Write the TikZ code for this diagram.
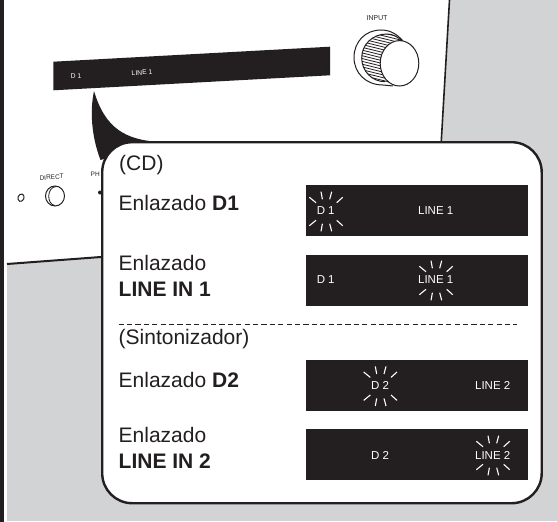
\documentclass[tikz,border=0pt]{standalone}
\usepackage{fontspec}
\setmainfont{Liberation Sans}
\definecolor{ink}{HTML}{231F20}
\definecolor{bggrey}{HTML}{D1D3D4}
\tikzset{
  x=1pt,y=-1pt,
  dispbox/.style={fill=ink,draw=none,inner sep=0pt,minimum width=222pt,minimum height=51pt,anchor=north west},
  disptext/.style={text=white,inner sep=0pt,font=\fontsize{11.5}{12}\selectfont},
  bigtext/.style={text=ink,inner sep=0pt,anchor=base west,font=\fontsize{21}{22}\selectfont},
  smalltext/.style={text=ink,inner sep=0pt,font=\fontsize{6.8}{7}\selectfont},
  spark/.style={draw=white,line width=1.1pt},
  edge/.style={draw=ink,line width=1pt}
}
\newcommand{\burstat}[2]{%
  \begin{scope}[shift={(#1,#2)}]
    \foreach \ax/\ay/\bx/\by in {-16.3/-13.7/-9.7/-8.3,-4.7/-19.3/-3.3/-11.7,6/-19.3/4/-11.7,17/-13.7/11/-8.3,
      -16.3/14.7/-9.7/9.3,-4.7/20.3/-3.3/12.7,6/20.3/4/12.7,17/14.7/11/9.3}
      {\draw[spark] (\ax,\ay) -- (\bx,\by);}
  \end{scope}}
\begin{document}
\begin{tikzpicture}
\useasboundingbox (0,0) rectangle (557,522);
\fill[white] (0,0) rectangle (557,522);
\fill[bggrey] (7,0) rectangle (557,521);
\fill[ink] (0,0) rectangle (4,522);
% front panel
\fill[white] (7,0) -- (449.5,0) -- (436,232) -- (7,264) -- cycle;
\draw[draw=ink,line width=1.6pt] (449.5,0) -- (436,232);
\draw[draw=ink,line width=2pt] (7,264) -- (436,232);
% panel display
\fill[ink] (53.3,61.7) -- (330,46.7) -- (330,75.3) -- (53.3,90.3) -- cycle;
\node[smalltext,text=white,rotate=3] (pd) at (76,76) {D 1};
\node[smalltext,text=white,rotate=3] (pl) at (142,72.5) {LINE 1};
\node[smalltext,font=\fontsize{7}{8}\selectfont,rotate=3] (inp) at (377,18) {INPUT};
% knob
\draw[edge,fill=white] (403,41) .. controls (396,33) and (389,30) .. (381,30)
  .. controls (365,30) and (354,42) .. (354,57.5)
  .. controls (354,73) and (366,85) .. (383,85) -- (393,86);
\begin{scope}
  \clip (387,34) .. controls (372,34) and (361.7,45) .. (361.7,58) .. controls (361.7,71) and (372,81.7) .. (385,81.7) -- (400,84) -- (410,50) -- (403,41.7) .. controls (398,37) and (393,34) .. (387,34) -- cycle;
  \foreach \k in {0,...,20} {\draw[ink,line width=.8pt] (355,{26+\k*2.8}) -- (412,{40+\k*2.8});}
\end{scope}
\draw[edge] (403,41.7) .. controls (398,37) and (393,34) .. (387,34) .. controls (372,34) and (361.7,45) .. (361.7,58) .. controls (361.7,71) and (372,81.7) .. (385,81.7);
\draw[edge,fill=white] (399.5,63.3) ellipse [x radius=19.3, y radius=22.7];
% left controls
\draw[edge,rotate around={-20:(21,197.7)}] (21,197.7) ellipse [x radius=3, y radius=3.8];
\node[smalltext,font=\fontsize{6.5}{7}\selectfont,rotate=4] (dir) at (51.7,177.3) {DIRECT};
\draw[edge,fill=white] (55,196) ellipse [x radius=9.5, y radius=10];
\draw[draw=ink,line width=.8pt] (56,186.6) .. controls (47,187) and (46,204) .. (55,205.6);
\node[smalltext,anchor=west,font=\fontsize{6.5}{7}\selectfont] (ph) at (90.5,174) {PH};
\fill[ink] (100,192.5) circle (2);
% pointer
\fill[ink] (94,91) .. controls (90,110) and (91,135) .. (100.5,160) -- (160,142)
  .. controls (125,140) and (105,128) .. (94,91) -- cycle;
% callout
\node[draw=ink,fill=white,line width=2.4pt,rounded corners=30pt,minimum width=439.5pt,minimum height=361pt,anchor=north west,inner sep=0pt] (callout) at (101,141) {};
% left labels
\node[bigtext] (t1) at (119,170) {(CD)};
\node[bigtext] (t2) at (118.5,210) {Enlazado \textbf{D1}};
\node[bigtext] (t3) at (118.5,270.7) {Enlazado};
\node[bigtext] (t4) at (118.5,296.7) {\textbf{LINE IN 1}};
\node[bigtext] (t5) at (118.5,344.3) {(Sintonizador)};
\node[bigtext] (t6) at (118.5,387.7) {Enlazado \textbf{D2}};
\node[bigtext] (t7) at (118.5,442) {Enlazado};
\node[bigtext] (t8) at (118.5,468.3) {\textbf{LINE IN 2}};
\draw[draw=ink,line width=.7pt,dash pattern=on 5.2pt off 3.2pt] (t5.north west |- 0,324.3) -- (517,324.3);
% displays
\node[dispbox] (d1) at (305.3,185) {};
\node[dispbox] (d2) at (305.3,254.3) {};
\node[dispbox] (d3) at (305.3,359.3) {};
\node[dispbox] (d4) at (305.3,429) {};
\node[disptext] (a1) at (325.7,211) {D 1};
\node[disptext] (a2) at (435.7,211) {LINE 1};
\node[disptext] (b1) at (325.7,280) {D 1};
\node[disptext] (b2) at (435.7,280) {LINE 1};
\node[disptext] (c1) at (380,385.7) {D 2};
\node[disptext] (c2) at (492.7,385.7) {LINE 2};
\node[disptext] (e1) at (380,455) {D 2};
\node[disptext] (e2) at (492.7,455) {LINE 2};
\burstat{325.7}{211}
\burstat{435.7}{280}
\burstat{380}{385.7}
\burstat{492.7}{455}
\end{tikzpicture}
\end{document}
